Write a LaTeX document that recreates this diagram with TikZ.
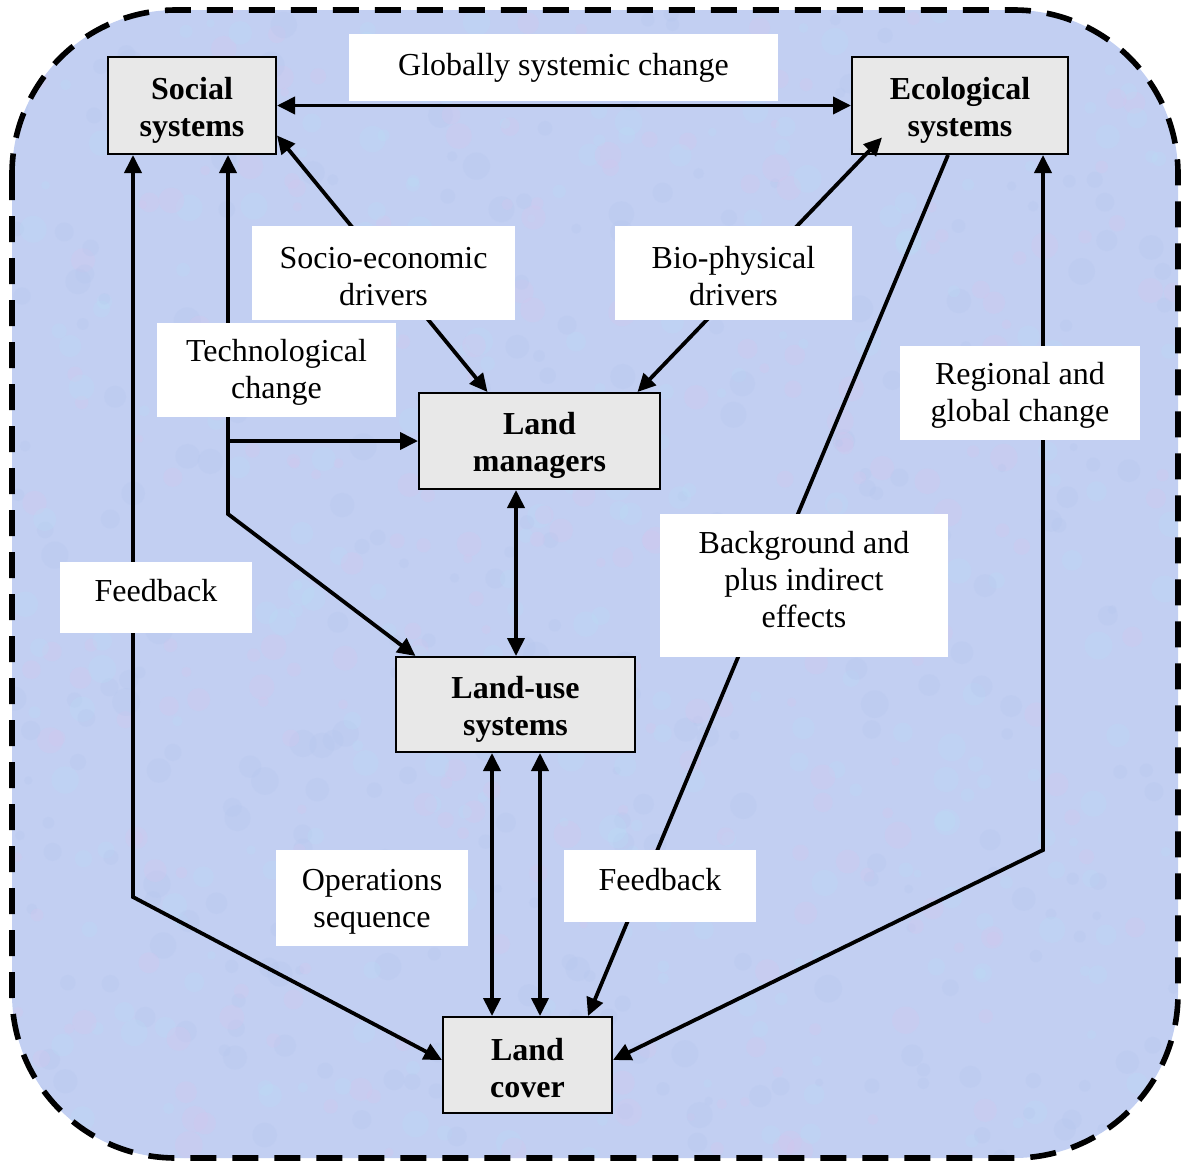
\documentclass[tikz,border=0pt]{standalone}
\usepackage{fontspec}
\setmainfont{Liberation Serif}
\usetikzlibrary{arrows.meta,calc}

\definecolor{paper}{RGB}{194,207,242}
\definecolor{blotpink}{RGB}{212,198,238}
\definecolor{blotcyan}{RGB}{186,220,246}
\definecolor{blotblue}{RGB}{180,198,238}
\definecolor{boxgray}{RGB}{232,232,232}

\tikzset{
  txt/.style={font=\fontsize{16}{18.5}\selectfont, align=center},
  sysbox/.style={txt, font=\fontsize{16}{18.5}\selectfont\bfseries, draw=black, line width=1pt,
    fill=boxgray, inner sep=0pt, text height=34.4pt},
  lbl/.style={txt, fill=white, inner sep=0pt},
  twoline/.style={text height=32.4pt},
  conn/.style={line width=1.9pt, draw=black},
  tip/.style={-{Triangle[length=9pt,width=8.5pt]}},
  tips/.style={{Triangle[length=9pt,width=8.5pt]}-{Triangle[length=9pt,width=8.5pt]}},
}

\begin{document}
\begin{tikzpicture}[x=0.5pt,y=-0.5pt]
\useasboundingbox (0,0) rectangle (1183,1163);

% framed backdrop with a fine mottled paper texture
\fill[paper, rounded corners=82pt] (12,10) rectangle (1178,1158);
\begin{scope}
  \clip[rounded corners=82pt] (12,10) rectangle (1178,1158);
  \pgfmathsetseed{7}
  \foreach \i in {1,...,900} {
    \pgfmathsetmacro{\bx}{12+1166*rnd}
    \pgfmathsetmacro{\by}{10+1148*rnd}
    \pgfmathsetmacro{\br}{4+10*rnd}
    \pgfmathtruncatemacro{\bc}{3*rnd}
    \ifcase\bc
      \fill[blotpink, opacity=0.3] (\bx,\by) circle[radius=\br];
    \or
      \fill[blotcyan, opacity=0.3] (\bx,\by) circle[radius=\br];
    \else
      \fill[blotblue, opacity=0.25] (\bx,\by) circle[radius=\br];
    \fi
  }
\end{scope}
\draw[black, line width=2.8pt, dash pattern=on 13pt off 8pt,
      rounded corners=82pt] (12,10) rectangle (1178,1158);

% system boxes
\node[sysbox, minimum width=84pt, minimum height=48.5pt] (soc) at (192,105.5) {Social\\systems};
\node[sysbox, minimum width=108pt, minimum height=48.5pt] (eco) at (960,105.5) {Ecological\\systems};
\node[sysbox, minimum width=120.5pt, minimum height=48pt] (lm) at (539.5,441) {Land\\managers};
\node[sysbox, minimum width=119.5pt, minimum height=47.5pt] (lu) at (515.5,704.5) {Land-use\\systems};
\node[sysbox, minimum width=84.5pt, minimum height=48pt, text height=32.4pt] (lc) at (527.5,1065) {Land\\cover};

% bend points
\coordinate (tk) at (228,514);
\coordinate (fl) at (133,897);
\coordinate (fr) at (1043,850);

% connectors
\draw[conn, tips] (soc.east) -- (eco.west);
\draw[conn, tips] ([yshift=-15pt]soc.east) -- ([xshift=-26pt]lm.north);
\draw[conn, tips] ([xshift=15.5pt,yshift=-16pt]eco.west) -- ([xshift=49pt]lm.north);
\draw[conn, tips] ([xshift=18pt]soc.south) -- (tk) -- ([xshift=-50pt]lu.north);
\draw[conn, tip] (tk |- lm.west) -- (lm.west);
\draw[conn, tips] ([xshift=-29.5pt]soc.south) -- (fl) -- ([yshift=2.5pt]lc.west);
\draw[conn, tip] ([xshift=-6pt]eco.south) -- ([xshift=30.25pt]lc.north);
\draw[conn, tips] ([xshift=41.5pt]eco.south) -- (fr) -- ([yshift=2.5pt]lc.east);
\draw[conn, tips] ([xshift=-11.75pt]lm.south) -- ([xshift=-11.75pt]lm.south |- lu.north);
\draw[conn, tips] ([xshift=-11.75pt]lu.south) -- ([xshift=-11.75pt]lu.south |- lc.north);
\draw[conn, tips] ([xshift=12.25pt]lu.south) -- ([xshift=12.25pt]lu.south |- lc.north);

% labels
\node[lbl, minimum width=214.5pt, minimum height=33.5pt] (glob) at (563.5,67.5) {Globally systemic change};
\node[lbl, twoline, minimum width=131.5pt, minimum height=47pt] (sed) at (383.5,273) {Socio-economic\\drivers};
\node[lbl, twoline, minimum width=118.5pt, minimum height=47pt] (bpd) at (733.5,273) {Bio-physical\\drivers};
\node[lbl, twoline, minimum width=119.5pt, minimum height=47pt] (tch) at (276.5,370) {Technological\\change};
\node[lbl, twoline, minimum width=120pt, minimum height=47pt] (rgc) at (1020,393) {Regional and\\global change};
\node[lbl, minimum width=96pt, minimum height=35.5pt, text depth=7pt] (fbl) at (156,597.5) {Feedback};
\node[lbl, minimum width=144pt, minimum height=71.5pt, text depth=6pt] (bgi) at (804,585.5) {Background and\\plus indirect\\effects};
\node[lbl, twoline, minimum width=96pt, minimum height=48pt] (ops) at (372,898) {Operations\\sequence};
\node[lbl, minimum width=96pt, minimum height=36pt, text depth=7pt] (fbr) at (660,886) {Feedback};
\end{tikzpicture}
\end{document}
